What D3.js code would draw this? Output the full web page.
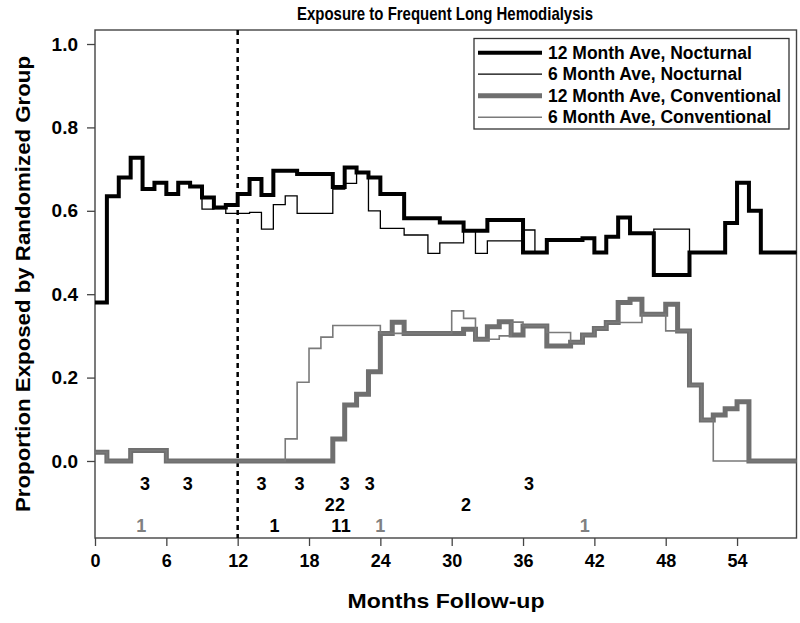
<!DOCTYPE html>
<html>
<head>
<meta charset="utf-8">
<script src="https://cdn.jsdelivr.net/npm/d3@7"></script>
<style>
html,body{margin:0;padding:0;background:#fff;}
svg{display:block;font-family:"Liberation Sans",Arial,sans-serif;font-weight:bold;}
</style>
</head>
<body>
<svg id="chart" width="800" height="623"></svg>
<script>
// ---- data (value for month interval [m, m+1)) ----
const months = [0,1,2,3,4,5,6,7,8,9,10,11,12,13,14,15,16,17,18,19,20,21,22,23,24,25,26,27,28,29,30,31,32,33,34,35,36,37,38,39,40,41,42,43,44,45,46,47,48,49,50,51,52,53,54,55,56,57,58];
const nocturnal12 = [0.38,0.635,0.68,0.727,0.652,0.667,0.64,0.667,0.658,0.632,0.608,0.614,0.64,0.676,0.638,0.696,0.696,0.688,0.688,0.688,0.657,0.704,0.692,0.68,0.64,0.64,0.582,0.582,0.582,0.572,0.572,0.552,0.552,0.578,0.578,0.578,0.5,0.5,0.53,0.53,0.53,0.534,0.5,0.538,0.584,0.546,0.546,0.446,0.446,0.446,0.5,0.5,0.5,0.571,0.667,0.6,0.5,0.5,0.5];
const nocturnal6 = [0.38,0.635,0.68,0.727,0.652,0.667,0.64,0.667,0.658,0.604,0.605,0.594,0.594,0.596,0.556,0.615,0.636,0.594,0.594,0.594,0.652,0.666,0.692,0.6,0.558,0.558,0.542,0.542,0.498,0.523,0.523,0.552,0.498,0.528,0.528,0.528,0.554,0.5,0.53,0.53,0.53,0.534,0.5,0.538,0.584,0.546,0.546,0.556,0.556,0.556,0.5,0.5,0.5,0.571,0.667,0.6,0.5,0.5,0.5];
const conventional12 = [0.021,0,0,0.025,0.025,0.025,0,0,0,0,0,0,0,0,0,0,0,0,0,0,0.053,0.134,0.16,0.214,0.306,0.333,0.306,0.306,0.306,0.306,0.306,0.316,0.292,0.322,0.334,0.302,0.324,0.324,0.276,0.276,0.285,0.302,0.318,0.332,0.38,0.388,0.352,0.352,0.376,0.312,0.182,0.098,0.11,0.125,0.142,0,0,0,0];
const conventional6 = [0.021,0,0,0.025,0.025,0.025,0,0,0,0,0,0,0,0,0,0,0.053,0.189,0.27,0.297,0.325,0.325,0.325,0.325,0.306,0.306,0.306,0.306,0.306,0.306,0.36,0.342,0.292,0.292,0.30,0.333,0.324,0.324,0.308,0.308,0.285,0.302,0.318,0.332,0.332,0.332,0.352,0.352,0.312,0.312,0.182,0.098,0,0,0,0,0,0,0];
const endMonth = 59;

const seriesNames = ["12 Month Ave, Nocturnal","6 Month Ave, Nocturnal","12 Month Ave, Conventional","6 Month Ave, Conventional"];

const xTicks = [0,6,12,18,24,30,36,42,48,54];
const yTicks = [0.0,0.2,0.4,0.6,0.8,1.0];

// event counts shown below the zero line
const annotLabels = ["3","3","3","3","3","3","3","2","2","2","1","1","1","1","1","1"];
const annotMonths = [4.2,7.8,14.0,17.2,21.0,23.1,36.5,19.75,20.6,31.2,3.9,15.1,20.3,21.1,24.0,41.2];
const annotRows   = [1,1,1,1,1,1,1,2,2,2,3,3,3,3,3,3];
const annotGrey   = [false,false,false,false,false,false,false,false,false,false,true,false,false,false,true,true];

// ---- layout ----
const svg = d3.select("#chart");
const L = 95, R = 796.5, T = 30, B = 538;
const x = d3.scaleLinear().domain([0, 59]).range([L, R]);
const y = d3.scaleLinear().domain([-0.1847, 1.0336]).range([B, T]);

const grey = "#6f6f6f";
const styles = [
  {color:"#000", width:4},
  {color:"#000", width:1.3},
  {color:grey, width:5},
  {color:"#7a7a7a", width:1.6}
];

// title
svg.append("text").attr("x", 445).attr("y", 19.5).attr("text-anchor","middle")
  .attr("font-size", 19).attr("textLength", 296).attr("lengthAdjust","spacingAndGlyphs")
  .text("Exposure to Frequent Long Hemodialysis");

// axis labels
svg.append("text").attr("x", 446).attr("y", 608).attr("text-anchor","middle")
  .attr("font-size", 21).attr("textLength", 197).attr("lengthAdjust","spacingAndGlyphs")
  .text("Months Follow-up");
svg.append("text").attr("transform","translate(30,284) rotate(-90)").attr("text-anchor","middle")
  .attr("font-size", 21).attr("textLength", 456).attr("lengthAdjust","spacingAndGlyphs")
  .text("Proportion Exposed by Randomized Group");

// axes
const yAxis = d3.axisLeft(y).tickValues(yTicks).tickFormat(d3.format(".1f")).tickSize(8).tickPadding(9);
const gy = svg.append("g").attr("transform", `translate(${L},0)`).call(yAxis);
gy.select(".domain").remove();
gy.selectAll(".tick line").attr("stroke","#444").attr("stroke-width",1.3);
gy.selectAll(".tick text").attr("font-size",19).attr("font-weight","bold").attr("fill","#000")
  .attr("font-family","Liberation Sans, Arial, sans-serif");

const xAxis = d3.axisBottom(x).tickValues(xTicks).tickFormat(d3.format("d")).tickSize(8).tickPadding(8);
const gx = svg.append("g").attr("transform", `translate(0,${B})`).call(xAxis);
gx.select(".domain").remove();
gx.selectAll(".tick line").attr("stroke","#444").attr("stroke-width",1.3);
gx.selectAll(".tick text").attr("font-size",18).attr("font-weight","bold").attr("fill","#000")
  .attr("font-family","Liberation Sans, Arial, sans-serif");

// box
svg.append("rect").attr("x", L).attr("y", T).attr("width", R - L).attr("height", B - T)
  .attr("fill","none").attr("stroke","#444").attr("stroke-width",1.4);

// dashed line at 12 months
svg.append("line").attr("x1", x(12)).attr("x2", x(12)).attr("y1", T).attr("y2", B)
  .attr("stroke","#000").attr("stroke-width",2.5).attr("stroke-dasharray","5,4");

// step lines
const line = d3.line().x(d => x(d[0])).y(d => y(d[1])).curve(d3.curveStepAfter);
function pts(vals){
  const p = months.map((m,i) => [m, vals[i]]);
  p.push([endMonth, vals[vals.length-1]]);
  return p;
}
const allSeries = [nocturnal12, nocturnal6, conventional12, conventional6];
const order = [2,3,0,1];
order.forEach(i => {
  svg.append("path").attr("d", line(pts(allSeries[i])))
    .attr("fill","none").attr("stroke", styles[i].color).attr("stroke-width", styles[i].width)
    .attr("stroke-linejoin","miter").attr("stroke-linecap","butt");
});

// annotations
const rowY = {1:490, 2:510.5, 3:531.5};
annotLabels.forEach((lab,i) => {
  svg.append("text").attr("x", x(annotMonths[i])).attr("y", rowY[annotRows[i]])
    .attr("text-anchor","middle").attr("font-size",18)
    .attr("fill", annotGrey[i] ? "#808080" : "#000").text(lab);
});

// legend
svg.append("rect").attr("x",474).attr("y",38.5).attr("width",315).attr("height",90.5)
  .attr("fill","#fff").attr("stroke","#333").attr("stroke-width",1.3);
const legRows = [52.7, 74.2, 95.8, 117.3];
seriesNames.forEach((name,i) => {
  svg.append("line").attr("x1",478).attr("x2",542).attr("y1",legRows[i]).attr("y2",legRows[i])
    .attr("stroke", styles[i].color).attr("stroke-width", styles[i].width);
  svg.append("text").attr("x",548).attr("y",legRows[i]+6).attr("font-size",17.5).text(name);
});
</script>
</body>
</html>
